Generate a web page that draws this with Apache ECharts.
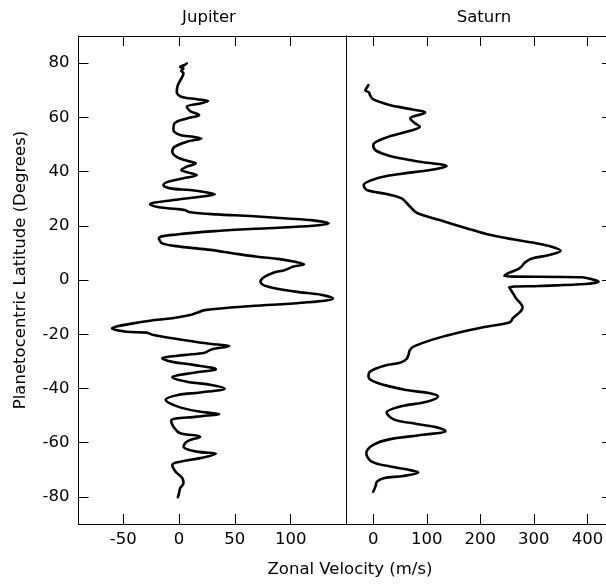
<!DOCTYPE html>
<html><head><meta charset="utf-8">
<script src="https://cdn.jsdelivr.net/npm/echarts@6/dist/echarts.min.js"></script>
<style>html,body{margin:0;padding:0;background:#fff}#c{width:606px;height:584px}</style>
</head><body><div id="c"></div>
<script>
var jupiterLat = [79.9,79.3,78.6,78.0,77.2,76.3,75.0,71.9,69.4,67.6,66.7,66.0,65.1,63.9,62.3,60.8,59.6,57.8,55.3,53.5,52.8,52.2,51.0,49.1,47.3,45.1,43.9,43.0,41.8,40.6,39.7,38.7,37.5,36.2,35.0,33.8,33.2,32.3,31.6,30.7,29.5,27.9,26.8,26.2,25.8,25.0,24.2,23.6,22.7,22.0,20.9,20.0,19.1,18.1,16.8,15.4,13.5,12.3,11.1,9.8,8.6,7.7,6.7,5.8,4.9,3.7,2.6,1.0,-0.6,-2.5,-4.3,-5.5,-6.8,-8.4,-9.6,-11.1,-12.1,-12.9,-14.1,-15.0,-16.0,-17.8,-19.1,-19.4,-20.3,-22.1,-23.6,-24.3,-25.6,-26.8,-27.7,-28.9,-30.1,-31.3,-32.9,-34.2,-35.9,-37.5,-38.7,-40.0,-41.5,-42.4,-44.2,-46.7,-48.6,-49.4,-50.4,-51.9,-54.7,-56.5,-57.8,-59.6,-61.5,-63.3,-64.1,-65.7,-67.0,-68.2,-70.7,-73.1,-75.0,-76.8,-78.7,-80.1];
var jupiterVel = [7,5,1,4,2,4,3,-1,-2,2,16,26,19,7,10,18,7,-4,-5,1,13,20,7,-4,-6,-1,8,15,7,2,8,16,4,-10,-14,-8,10,25,32,19,-5,-26,-18,-2,5,10,34,64,97,120,134,120,79,34,-2,-18,-15,1,28,49,70,90,104,112,102,95,84,76,73,80,104,128,138,110,65,23,16,10,-6,-26,-41,-60,-47,-29,-23,4,29,45,29,23,4,-15,-7,13,33,13,-6,7,29,41,19,-1,-12,-1,19,36,16,-7,-4,1,19,7,4,16,33,19,1,-6,-3,3,4,1,0,-1];
var saturnLat = [71.9,71.0,70.0,69.2,68.2,66.6,64.5,63.3,61.7,59.6,57.8,56.5,54.7,52.6,49.8,47.9,46.1,44.9,43.6,42.0,40.6,39.1,37.5,35.0,33.2,31.7,30.1,27.0,24.8,22.1,19.1,17.0,15.0,13.8,12.5,10.8,9.2,8.0,6.7,4.3,2.7,1.5,1.0,0.2,-0.6,-1.5,-2.2,-2.7,-4.9,-6.8,-10.1,-14.1,-15.7,-17.4,-19.9,-21.9,-24.6,-26.0,-27.5,-29.2,-30.5,-31.7,-33.8,-35.6,-37.9,-40.6,-41.8,-43.0,-44.9,-46.7,-48.9,-51.4,-53.1,-54.3,-55.7,-57.1,-58.7,-60.8,-63.9,-67.0,-68.8,-70.0,-71.0,-72.3,-73.1,-74.4,-76.2,-78.1];
var saturnVel = [-9,-12,-15,-8,-6,0,32,62,97,69,78,87,62,25,0,4,25,50,87,137,106,50,7,-18,-12,25,53,69,81,124,174,211,261,298,329,350,329,298,285,273,254,245,390,409,421,397,310,254,261,267,279,261,254,205,149,112,75,68,66,62,50,19,-6,-9,7,62,106,121,100,50,25,38,81,118,135,93,32,0,-13,-3,32,66,84,56,19,7,4,0];
var jupiterTicks = [-50,0,50,100];
var saturnTicks = [0,100,200,300,400];
var latTicks = [-80,-60,-40,-20,0,20,40,60,80];
var panelTitles = ['Jupiter','Saturn'];
var xTitle = 'Zonal Velocity (m/s)';
var yTitle = 'Planetocentric Latitude (Degrees)';

function pairs(v, l){ return v.map(function(x,i){ return [x, l[i]]; }); }
var FONT = 'DejaVu Sans';
var FS = 16.5;
function xAx(grid, pos, min, max, ticks, labels){
  return {type:'value', gridIndex:grid, position:pos, min:min, max:max,
    axisLine:{show:true, onZero:false, lineStyle:{color:'#000',width:1}},
    axisTick:{show:true, inside:true, length:10, customValues:ticks, lineStyle:{color:'#000',width:1}},
    axisLabel:{show:labels, customValues:ticks, margin:7, color:'#000', fontFamily:FONT, fontSize:FS,
      formatter:function(v){return String(v);}},
    splitLine:{show:false}};
}
function yAx(grid, pos, ticks, labels, showTick){
  return {type:'value', gridIndex:grid, position:pos, min:-90, max:90,
    axisLine:{show:true, onZero:false, lineStyle:{color:'#000',width:1}},
    axisTick:{show:showTick, inside:true, length:10, customValues:ticks, lineStyle:{color:'#000',width:1}},
    axisLabel:{show:labels, customValues:ticks, margin:9, color:'#000', fontFamily:FONT, fontSize:FS,
      formatter:function(v){return String(v);}},
    splitLine:{show:false}};
}
var chart = echarts.init(document.getElementById('c'), null, {renderer:'canvas'});
chart.setOption({
  animation:false,
  backgroundColor:'#fff',
  grid:[
    {left:78.5, top:36, width:268, height:488, outerBoundsMode:'none', containLabel:false},
    {left:346.5, top:36, width:265.5, height:488, outerBoundsMode:'none', containLabel:false}
  ],
  xAxis:[
    xAx(0,'bottom',-90,150,jupiterTicks,true),
    xAx(0,'top',-90,150,jupiterTicks,false),
    xAx(1,'bottom',-50,446,saturnTicks,true),
    xAx(1,'top',-50,446,saturnTicks,false)
  ],
  yAxis:[
    yAx(0,'left',latTicks,true,true),
    yAx(0,'right',latTicks,false,false),
    yAx(1,'left',latTicks,false,false),
    yAx(1,'right',latTicks,false,true)
  ],
  graphic:[
    {type:'text', x:209, y:18, style:{text:panelTitles[0], fill:'#000', font:FS+'px "'+FONT+'"', textAlign:'center', textVerticalAlign:'middle'}},
    {type:'text', x:484, y:18, style:{text:panelTitles[1], fill:'#000', font:FS+'px "'+FONT+'"', textAlign:'center', textVerticalAlign:'middle'}},
    {type:'text', x:350, y:570, style:{text:xTitle, fill:'#000', font:FS+'px "'+FONT+'"', textAlign:'center', textVerticalAlign:'middle'}},
    {type:'text', x:21, y:270, rotation:Math.PI/2, style:{text:yTitle, fill:'#000', font:FS+'px "'+FONT+'"', textAlign:'center', textVerticalAlign:'middle'}}
  ],
  series:[
    {type:'line', xAxisIndex:0, yAxisIndex:0, data:pairs(jupiterVel,jupiterLat), showSymbol:false, smooth:0.35,
      lineStyle:{color:'#000', width:2.6, join:'round', cap:'round'}},
    {type:'line', xAxisIndex:2, yAxisIndex:3, data:pairs(saturnVel,saturnLat), showSymbol:false, smooth:0.35,
      lineStyle:{color:'#000', width:2.6, join:'round', cap:'round'}}
  ]
});
</script></body></html>
